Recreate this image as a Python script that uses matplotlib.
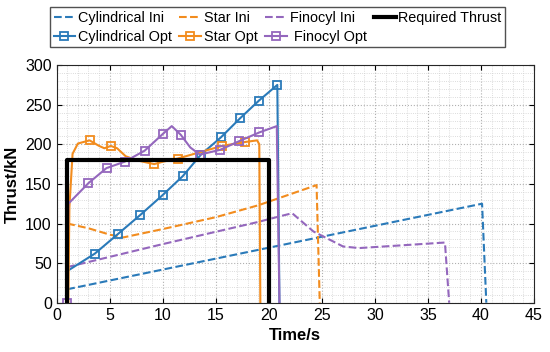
import matplotlib
matplotlib.use("Agg")
import matplotlib.pyplot as plt
from matplotlib.ticker import MultipleLocator

plt.rcParams['font.family'] = ['Liberation Sans', 'DejaVu Sans']

# thrust curves (time in s, thrust in kN)
cyl_ini_t = [1.0, 40.1, 40.5]
cyl_ini_f = [17, 125, 0]

star_ini_t = [1.0, 3.0, 5.0, 6.3, 10.0, 15.0, 19.0, 24.5, 24.8]
star_ini_f = [100, 94, 86, 82.5, 93, 108, 123, 148.5, 0]

fin_ini_t = [1.0, 10.0, 19.0, 21.0, 22.2, 24.2, 27.0, 28.5, 32.0, 36.6, 37.0]
fin_ini_f = [45, 74, 102, 109, 113, 90, 71, 69, 72, 76, 0]

cyl_opt_t = [1.0, 3.6, 5.8, 7.9, 10.0, 11.9, 13.6, 15.5, 17.3, 19.05, 20.8, 21.0]
cyl_opt_f = [40, 62, 87, 111, 136, 160, 187, 209, 233, 255, 275, 0]

star_opt_t = [1.1, 1.2, 1.5, 2.0, 3.1, 4.0, 4.5, 5.1, 5.7, 6.5, 7.5, 8.5, 9.2, 10.0,
              11.4, 13.5, 15.6, 17.8, 18.9, 19.1, 19.2]
star_opt_f = [0, 120, 188, 201, 205, 198, 195, 198, 195, 185, 180, 177, 175, 178,
              182, 190, 198, 203, 205, 200, 0]
star_opt_marks = [4, 7, 12, 14, 16, 17]

fin_opt_t = [1.0, 1.1, 3.0, 4.7, 6.4, 8.3, 10.0, 10.85, 11.7, 12.6, 13.5, 15.4, 17.2,
             19.1, 20.75, 21.0]
fin_opt_f = [0, 125, 151, 170, 178, 192, 213, 223, 212, 196, 187, 193, 204, 215, 223, 0]
fin_opt_marks = [0, 2, 3, 4, 5, 6, 8, 10, 11, 12, 13]

req_t = [1, 1, 20, 20]
req_f = [0, 180, 180, 0]

blue = '#2a7ab9'
orange = '#f28c1e'
purple = '#9467bd'

fig = plt.figure(figsize=(5.5, 3.52), dpi=100)
ax = fig.add_axes([0.103, 0.14, 0.868, 0.675])

# dashed initial designs
l1, = ax.plot(cyl_ini_t, cyl_ini_f, '--', color=blue, lw=1.5, label='Cylindrical Ini')
l3, = ax.plot(star_ini_t, star_ini_f, '--', color=orange, lw=1.5, label='Star Ini')
l5, = ax.plot(fin_ini_t, fin_ini_f, '--', color=purple, lw=1.5, label='Finocyl Ini')

# optimized designs
l2, = ax.plot(cyl_opt_t, cyl_opt_f, '-', color=blue, lw=1.5, marker='s', ms=6,
              mfc='none', mew=1.3, markevery=list(range(1, 11)), label='Cylindrical Opt')
l4, = ax.plot(star_opt_t, star_opt_f, '-', color=orange, lw=1.5, marker='s', ms=6,
              mfc='none', mew=1.3, markevery=star_opt_marks, label='Star Opt')
l6, = ax.plot(fin_opt_t, fin_opt_f, '-', color=purple, lw=1.5, marker='s', ms=6,
              mfc='none', mew=1.3, markevery=fin_opt_marks, label=' Finocyl Opt')

l7, = ax.plot(req_t, req_f, '-', color='black', lw=3, label='Required Thrust')

ax.set_xlim(0, 45)
ax.set_ylim(0, 300)
ax.xaxis.set_major_locator(MultipleLocator(5))
ax.yaxis.set_major_locator(MultipleLocator(50))
ax.xaxis.set_minor_locator(MultipleLocator(1))
ax.yaxis.set_minor_locator(MultipleLocator(10))
ax.grid(which='major', ls=':', color='#b0b0b0', lw=0.8)
ax.grid(which='minor', ls=':', color='#d0d0d0', lw=0.6)
ax.tick_params(which='both', direction='in', top=True, right=True, labelsize=11.5)
ax.tick_params(which='minor', length=0)
for s in ax.spines.values():
    s.set_color('#262626')
    s.set_linewidth(0.8)

ax.set_xlabel('Time/s', fontsize=12, fontweight='bold')
ax.set_ylabel('Thrust/kN', fontsize=12, fontweight='bold')

fig.legend(handles=[l1, l2, l3, l4, l5, l6, l7], ncol=4, loc='upper left',
           bbox_to_anchor=(0.091, 0.98), fontsize=10.4, frameon=True, fancybox=False,
           edgecolor='#262626', handlelength=1.5, handletextpad=0.2,
           columnspacing=0.5, labelspacing=0.35, borderpad=0.25, borderaxespad=0)

fig.savefig('out.png', dpi=100)
